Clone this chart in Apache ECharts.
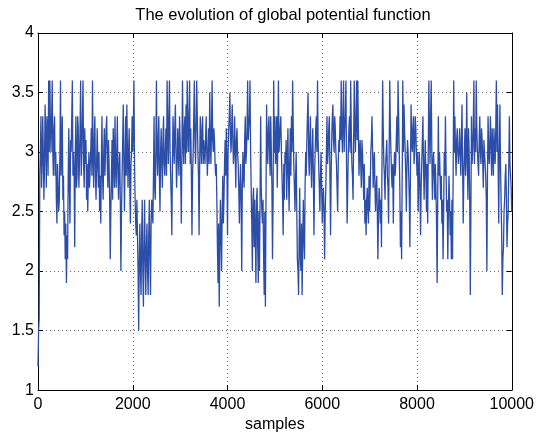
<!DOCTYPE html>
<html>
<head>
<meta charset="utf-8">
<script src="https://cdn.jsdelivr.net/npm/echarts@6/dist/echarts.min.js"></script>
<style>
  html, body { margin: 0; padding: 0; background: #fff; }
  #chart { width: 537px; height: 438px; }
</style>
</head>
<body>
<div id="chart"></div>
<script>
// potential: one value every 25 samples ...
const sampleStep = 25;
const potential = [
  1.2, 1.6, 3.0, 2.7, 3.3, 2.6, 3.4, 2.7, 3.2, 3.6,
  3.6, 3.0, 3.6, 2.8, 3.3, 3.0, 2.4, 2.7, 2.6, 3.6,
  3.0, 2.6, 2.3, 2.1, 1.9, 2.1, 3.2, 2.4, 3.0, 3.6,
  3.0, 2.2, 3.3, 2.8, 3.2, 2.9, 3.6, 3.0, 3.6, 2.7,
  2.9, 2.6, 2.5, 3.0, 2.7, 3.2, 3.6, 2.7, 3.3, 2.6,
  3.2, 2.7, 2.5, 2.4, 3.3, 2.6, 3.2, 3.0, 3.3, 2.7,
  2.9, 2.1, 2.8, 2.6, 3.0, 3.3, 2.7, 3.3, 2.6, 3.0,
  2.0, 2.8, 3.4, 2.5, 3.3, 3.4, 2.7, 3.2, 2.4, 3.0,
  3.0, 3.6, 2.6, 2.3, 2.6, 1.5, 2.4, 1.8, 2.6, 1.7,
  2.6, 1.8, 2.4, 1.8, 2.6, 1.8, 2.6, 2.4, 3.3, 2.6,
  3.6, 2.8, 3.3, 2.5, 3.2, 2.7, 3.3, 2.8, 3.2, 3.6,
  2.9, 3.6, 2.8, 2.3, 3.3, 2.9, 3.4, 2.7, 3.2, 2.8,
  3.1, 2.4, 3.6, 2.9, 3.3, 3.4, 3.6, 3.0, 3.6, 3.2,
  2.3, 3.0, 3.6, 2.9, 3.6, 3.0, 2.3, 3.3, 2.9, 3.3,
  3.1, 2.9, 3.3, 2.8, 3.2, 3.5, 2.9, 3.6, 3.0, 3.1,
  2.8, 2.6, 1.9, 1.7, 2.6, 2.0, 2.8, 2.6, 3.1, 3.2,
  2.3, 3.2, 3.5, 3.0, 3.4, 2.9, 3.3, 2.7, 3.2, 2.9,
  2.4, 2.9, 2.0, 3.0, 2.7, 3.3, 3.0, 3.6, 3.2, 3.6,
  2.7, 2.0, 2.7, 2.6, 1.9, 2.7, 1.9, 2.0, 3.3, 2.5,
  2.6, 1.8, 1.7, 3.4, 2.9, 3.3, 2.8, 3.0, 2.1, 3.6,
  3.3, 3.0, 2.7, 3.6, 3.0, 3.3, 2.8, 2.3, 2.6, 2.9,
  2.6, 3.2, 2.5, 3.2, 3.3, 3.6, 2.9, 2.5, 3.0, 2.1,
  1.8, 2.7, 2.0, 1.8, 2.6, 2.1, 3.0, 3.1, 3.5, 2.8,
  3.3, 2.7, 3.2, 2.3, 3.0, 3.3, 3.6, 2.9, 2.5, 3.0,
  2.4, 2.7, 2.1, 2.7, 3.3, 3.0, 3.3, 2.3, 3.1, 3.4,
  3.0, 3.2, 2.9, 2.5, 3.1, 3.3, 3.6, 3.0, 3.6, 3.2,
  3.6, 2.4, 3.0, 3.3, 3.6, 2.9, 2.6, 3.6, 3.0, 3.6,
  3.6, 2.8, 3.1, 2.7, 3.0, 2.6, 2.4, 2.3, 2.7, 2.4,
  2.5, 3.0, 3.3, 2.7, 3.0, 2.5, 2.8, 2.1, 2.7, 2.4,
  2.2, 3.6, 2.9, 2.6, 3.0, 2.8, 2.4, 3.6, 3.0, 2.7,
  2.4, 3.0, 2.9, 3.3, 3.6, 3.0, 2.2, 2.1, 3.6, 3.4,
  3.0, 2.5, 3.1, 2.8, 2.2, 3.4, 3.0, 3.3, 3.0, 3.2,
  2.8, 2.5, 3.0, 2.3, 2.9, 3.3, 2.6, 3.1, 2.5, 2.4,
  3.6, 2.9, 3.6, 2.6, 3.0, 2.6, 2.7, 1.9, 3.3, 3.0,
  2.6, 2.4, 2.1, 3.0, 3.3, 2.5, 2.1, 2.8, 2.3, 2.1,
  2.1, 3.6, 3.3, 2.8, 3.2, 2.9, 3.2, 2.8, 3.4, 2.4,
  3.0, 2.8, 3.5, 2.6, 3.0, 1.8, 3.3, 3.0, 3.6, 3.2,
  3.6, 3.0, 2.8, 3.3, 2.9, 3.1, 2.7, 3.0, 2.8, 2.0,
  3.3, 2.9, 3.3, 2.8, 3.0, 3.2, 2.9, 3.6, 3.4, 2.4,
  3.4, 2.6, 1.8, 2.2, 2.6, 2.9, 2.2, 2.5, 3.3, 2.8,
  2.5
];
// ... and the value half-way between each pair of them
const potentialMid = [
  1.5, 2.8, 3.3, 2.9, 3.0, 2.9, 3.1, 3.3, 2.8, 3.0,
  3.2, 3.3, 3.0, 3.2, 2.8, 2.6, 2.9, 2.5, 3.0, 2.8,
  3.3, 2.8, 2.5, 2.4, 2.3, 2.8, 2.7, 3.1, 3.3, 2.8,
  2.8, 3.0, 2.7, 3.3, 2.7, 3.2, 2.8, 3.3, 2.9, 3.2,
  3.1, 2.9, 2.8, 2.7, 3.0, 2.8, 3.0, 3.1, 2.8, 2.9,
  2.9, 3.0, 2.8, 2.9, 2.8, 3.0, 2.8, 3.2, 2.9, 3.1,
  2.6, 2.5, 3.1, 3.2, 2.7, 2.9, 3.0, 2.8, 2.9, 2.6,
  2.5, 3.1, 2.9, 2.9, 2.8, 3.0, 3.0, 2.7, 2.9, 3.3,
  3.2, 2.9, 2.4, 2.6, 2.0, 2.1, 2.0, 2.3, 2.0, 2.2,
  2.1, 2.2, 2.0, 2.3, 2.1, 2.4, 2.5, 2.8, 2.7, 3.0,
  3.0, 3.1, 2.8, 3.0, 2.9, 3.1, 2.9, 3.0, 2.8, 3.2,
  3.3, 3.0, 2.6, 2.9, 3.1, 3.2, 3.0, 2.9, 3.0, 3.3,
  2.8, 3.0, 3.1, 3.2, 2.9, 3.0, 3.2, 3.3, 2.9, 2.8,
  2.8, 3.3, 3.1, 3.2, 3.3, 2.8, 2.9, 3.1, 3.2, 2.9,
  3.0, 3.1, 3.0, 3.0, 2.9, 3.1, 3.2, 3.1, 3.2, 2.9,
  2.9, 2.2, 2.4, 2.2, 2.3, 2.5, 2.4, 2.9, 2.8, 2.9,
  3.0, 3.3, 3.1, 3.2, 3.1, 3.0, 3.0, 3.1, 3.0, 2.7,
  2.7, 2.6, 2.7, 2.8, 3.1, 2.9, 3.2, 3.1, 3.3, 3.0,
  2.4, 2.6, 2.2, 2.3, 2.6, 2.2, 2.5, 2.6, 2.7, 2.4,
  2.1, 2.5, 2.6, 3.0, 3.2, 3.0, 3.3, 2.7, 2.6, 3.0,
  2.9, 3.3, 3.1, 3.0, 3.2, 3.0, 2.6, 2.9, 3.0, 3.1,
  2.9, 2.8, 2.9, 2.8, 3.0, 3.2, 2.7, 2.8, 2.5, 2.0,
  2.3, 2.1, 2.4, 2.2, 2.3, 2.7, 2.8, 3.3, 3.0, 3.1,
  2.9, 3.0, 2.8, 2.8, 3.2, 3.0, 3.1, 2.7, 2.8, 2.7,
  2.6, 2.5, 2.5, 3.0, 2.9, 3.2, 2.8, 2.8, 3.3, 3.1,
  3.3, 3.0, 2.7, 2.9, 3.0, 3.1, 3.2, 3.3, 3.0, 3.3,
  2.9, 2.7, 3.2, 3.0, 3.2, 2.8, 3.1, 3.2, 3.3, 3.1,
  3.2, 3.0, 2.9, 3.1, 2.8, 2.9, 2.6, 2.6, 2.5, 2.8,
  2.7, 3.1, 3.0, 2.9, 2.7, 2.7, 2.5, 2.5, 2.6, 2.6,
  3.0, 3.2, 2.8, 2.9, 3.1, 2.7, 3.0, 3.2, 2.8, 2.9,
  2.8, 2.8, 3.1, 3.0, 3.3, 2.7, 2.5, 2.8, 3.0, 3.2,
  2.8, 2.9, 3.0, 2.6, 2.9, 3.1, 3.2, 2.9, 3.3, 3.0,
  3.0, 2.8, 2.7, 2.7, 3.1, 2.9, 2.9, 2.8, 2.9, 3.0,
  3.2, 3.3, 3.0, 2.9, 2.8, 2.9, 2.4, 2.6, 2.8, 2.8,
  2.8, 2.6, 2.5, 2.8, 2.9, 2.6, 2.5, 2.6, 2.5, 2.6,
  2.8, 3.0, 3.0, 3.1, 3.0, 3.0, 3.0, 3.1, 2.9, 2.8,
  3.2, 3.0, 2.9, 3.2, 2.6, 2.5, 2.9, 3.2, 2.9, 3.0,
  3.2, 2.9, 3.1, 3.0, 3.2, 2.9, 3.1, 2.9, 2.6, 2.8,
  3.0, 3.1, 3.0, 3.2, 2.8, 3.0, 3.2, 3.0, 2.9, 3.0,
  2.9, 2.3, 2.1, 2.5, 2.8, 2.6, 2.4, 2.9, 2.9, 2.7
];
const xRange = [0, 10000, 2000];
const yRange = [1, 4, 0.5];
const titleText = 'The evolution of global potential function';
const xName = 'samples';

const font = '"Liberation Sans", Arial, Helvetica, sans-serif';
const lineColor = '#2d4ea8';

// interleave the two readings in sample order
const seriesData = [];
potential.forEach((v, i) => {
  seriesData.push([i * sampleStep, v]);
  if (i < potentialMid.length) seriesData.push([i * sampleStep + sampleStep / 2, potentialMid[i]]);
});

const chart = echarts.init(document.getElementById('chart'), null, { renderer: 'canvas' });

const gridLine = { show: true, lineStyle: { color: '#666', type: [1, 3], width: 1 } };
const frame = { show: true, onZero: false, lineStyle: { color: '#000', width: 1 } };
const tickIn = { show: true, inside: true, length: 5, lineStyle: { color: '#000' } };

chart.setOption({
  animation: false,
  backgroundColor: '#fff',
  title: {
    text: titleText,
    left: 278,
    top: 2,
    textAlign: 'center',
    textStyle: { fontFamily: font, fontSize: 16.5, fontWeight: 'normal', color: '#000' }
  },
  grid: { left: 38, right: 24, top: 33, bottom: 45 },
  xAxis: [
    {
      type: 'value', min: xRange[0], max: xRange[1], interval: xRange[2],
      name: xName, nameLocation: 'middle', nameGap: 23,
      nameTextStyle: { fontFamily: font, fontSize: 16, color: '#000' },
      axisLine: frame, axisTick: tickIn, splitLine: gridLine,
      axisLabel: { margin: 6, fontFamily: font, fontSize: 16, color: '#000', formatter: v => String(v) }
    },
    {
      type: 'value', position: 'top', min: xRange[0], max: xRange[1], interval: xRange[2],
      axisLine: frame, axisTick: tickIn, splitLine: { show: false }, axisLabel: { show: false }
    }
  ],
  yAxis: [
    {
      type: 'value', min: yRange[0], max: yRange[1], interval: yRange[2],
      axisLine: frame, axisTick: tickIn, splitLine: gridLine,
      axisLabel: { margin: 4, fontFamily: font, fontSize: 16, color: '#000', formatter: v => String(v) }
    },
    {
      type: 'value', position: 'right', min: yRange[0], max: yRange[1], interval: yRange[2],
      axisLine: frame, axisTick: tickIn, splitLine: { show: false }, axisLabel: { show: false }
    }
  ],
  series: [{
    type: 'line',
    xAxisIndex: 0,
    yAxisIndex: 0,
    data: seriesData,
    showSymbol: false,
    symbol: 'none',
    sampling: null,
    lineStyle: { color: lineColor, width: 1.3 }
  }]
});
</script>
</body>
</html>
